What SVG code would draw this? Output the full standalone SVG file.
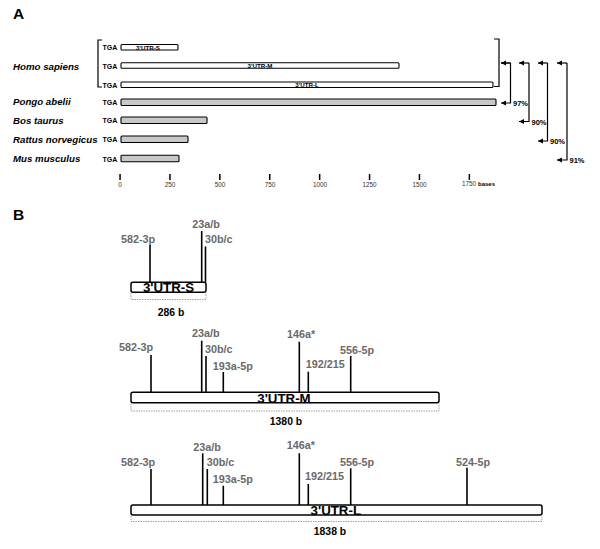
<svg xmlns="http://www.w3.org/2000/svg" width="600" height="549" viewBox="0 0 600 549">
<style>
.panel{font-family:"Liberation Sans",Arial,sans-serif;font-weight:bold;font-size:15.5px;fill:#000}
.sp{font-family:"Liberation Sans",Arial,sans-serif;font-weight:bold;font-style:italic;font-size:9.7px;fill:#000}
.tga{font-family:"Liberation Sans",Arial,sans-serif;font-weight:bold;font-size:7px;fill:#000}
.tiny{font-family:"Liberation Sans",Arial,sans-serif;font-weight:bold;font-size:6.2px;fill:#000;text-anchor:middle}
.tick{font-family:"Liberation Sans",Arial,sans-serif;font-size:6.4px;fill:#333;text-anchor:middle}
.pct{font-family:"Liberation Sans",Arial,sans-serif;font-weight:bold;font-size:7.5px;fill:#000}
.wbar{fill:#fff;stroke:#000;stroke-width:1.1}
.gbar{fill:#c8c8c8;stroke:#000;stroke-width:1.1}
.ln{stroke:#000;stroke-width:1.2;fill:none}
.mir{font-family:"Liberation Sans",Arial,sans-serif;font-weight:bold;font-size:10.8px;fill:#6a6a6a}
.site{stroke:#000;stroke-width:1.6}
.utr{fill:#fff;stroke:#000;stroke-width:1.5}
.utrt{font-family:"Liberation Sans",Arial,sans-serif;font-weight:bold;font-size:13.3px;fill:#000;text-anchor:middle}
.len{font-family:"Liberation Sans",Arial,sans-serif;font-weight:bold;font-size:10.4px;fill:#000;text-anchor:middle}
.dash{fill:none;stroke:#888;stroke-width:0.8;stroke-dasharray:1.5 1}
</style>
<defs>
<marker id="ah" markerWidth="6" markerHeight="6" refX="5" refY="3" orient="auto" markerUnits="userSpaceOnUse">
<path d="M0,0.5 L5,3 L0,5.5 z" fill="#000"/>
</marker>
</defs>

<!-- Panel A -->
<text class="panel" x="13" y="18.5">A</text>

<g id="species">
<text class="sp" x="13" y="70">Homo sapiens</text>
<text class="sp" x="13" y="104.5">Pongo abelii</text>
<text class="sp" x="13" y="123.5">Bos taurus</text>
<text class="sp" x="13" y="142.5">Rattus norvegicus</text>
<text class="sp" x="13" y="162">Mus musculus</text>
</g>

<g id="homo-bracket">
<path class="ln" d="M102,40 H98 V87 H102"/>
</g>

<g id="utr-s-a">
<text class="tga" x="102.5" y="49.8">TGA</text>
<rect class="wbar" x="121" y="44.5" width="57" height="5.5" rx="1"/>
<text class="tiny" x="148" y="49.6">3'UTR-S</text>
</g>
<g id="utr-m-a">
<text class="tga" x="102.5" y="68.5">TGA</text>
<rect class="wbar" x="121" y="62.8" width="278" height="5.5" rx="1"/>
<text class="tiny" x="260" y="68">3'UTR-M</text>
</g>
<g id="utr-l-a">
<text class="tga" x="102.5" y="88">TGA</text>
<rect class="wbar" x="121" y="82" width="372" height="5.5" rx="1"/>
<text class="tiny" x="307" y="87.3">3'UTR-L</text>
</g>
<g id="pongo">
<text class="tga" x="102.5" y="104.7">TGA</text>
<rect class="gbar" x="121" y="99" width="375" height="6.5" rx="1"/>
</g>
<g id="bos">
<text class="tga" x="102.5" y="123">TGA</text>
<rect class="gbar" x="121" y="117" width="86" height="6.5" rx="1"/>
</g>
<g id="rattus">
<text class="tga" x="102.5" y="142">TGA</text>
<rect class="gbar" x="121" y="136" width="67" height="6.5" rx="1"/>
</g>
<g id="mus">
<text class="tga" x="102.5" y="161.5">TGA</text>
<rect class="gbar" x="121" y="155.3" width="58" height="6.5" rx="1"/>
</g>

<g id="axis">
<g fill="#000">
<rect x="119.3" y="174" width="1.5" height="6"/>
<rect x="169.2" y="174" width="1.5" height="6"/>
<rect x="219.1" y="174" width="1.5" height="6"/>
<rect x="269" y="174" width="1.5" height="6"/>
<rect x="318.9" y="174" width="1.5" height="6"/>
<rect x="368.8" y="174" width="1.5" height="6"/>
<rect x="418.7" y="174" width="1.5" height="6"/>
<rect x="468.6" y="174" width="1.5" height="6"/>
</g>
<text class="tick" x="120" y="187">0</text>
<text class="tick" x="170" y="187">250</text>
<text class="tick" x="220" y="187">500</text>
<text class="tick" x="270" y="187">750</text>
<text class="tick" x="320" y="187">1000</text>
<text class="tick" x="369.5" y="187">1250</text>
<text class="tick" x="419.5" y="187">1500</text>
<text class="tick" x="469" y="186">1750</text>
<text class="tga" x="478" y="186" style="font-size:6px">bases</text>
</g>

<g id="connectors">
<path class="ln" d="M494,39 H499 V86.5 H494"/>
<path class="ln" d="M510.5,63 H501 M510.5,63 V103 H501" marker-end="url(#ah)"/>
<path class="ln" d="M510.5,63 H501" marker-end="url(#ah)"/>
<path class="ln" d="M529,63 H519" marker-end="url(#ah)"/>
<path class="ln" d="M529,63 V121.5 H519" marker-end="url(#ah)"/>
<path class="ln" d="M547.5,63 H538" marker-end="url(#ah)"/>
<path class="ln" d="M547.5,63 V141 H538" marker-end="url(#ah)"/>
<path class="ln" d="M567,63 H557" marker-end="url(#ah)"/>
<path class="ln" d="M567,63 V160 H557" marker-end="url(#ah)"/>
<text class="pct" x="513" y="106">97%</text>
<text class="pct" x="531.5" y="124.5">90%</text>
<text class="pct" x="550" y="144">90%</text>
<text class="pct" x="569.5" y="163">91%</text>
</g>

<!-- Panel B -->
<text class="panel" x="13" y="219.5">B</text>

<g id="utr-s-b">
<line class="site" x1="150" y1="245" x2="150" y2="282"/>
<line class="site" x1="201.7" y1="231" x2="201.7" y2="282"/>
<line class="site" x1="205.5" y1="246.5" x2="205.5" y2="282"/>
<text class="mir" x="121" y="243.3">582-3p</text>
<text class="mir" x="192.3" y="228.3">23a/b</text>
<text class="mir" x="205" y="243.3">30b/c</text>
<rect class="utr" x="131" y="282.3" width="75" height="10" rx="2"/>
<text class="utrt" x="168.5" y="292">3'UTR-S</text>
<path class="dash" d="M131,293 V299.5 H206 V293"/>
<text class="len" x="171" y="316">286 b</text>
</g>

<g id="utr-m-b">
<line class="site" x1="151" y1="355" x2="151" y2="392"/>
<line class="site" x1="201.7" y1="340.7" x2="201.7" y2="392"/>
<line class="site" x1="206" y1="356" x2="206" y2="392"/>
<line class="site" x1="223.3" y1="372" x2="223.3" y2="392"/>
<line class="site" x1="299.3" y1="341.7" x2="299.3" y2="392"/>
<line class="site" x1="308.3" y1="371.7" x2="308.3" y2="392"/>
<line class="site" x1="350.7" y1="356" x2="350.7" y2="392"/>
<text class="mir" x="119" y="350.7">582-3p</text>
<text class="mir" x="192" y="336.7">23a/b</text>
<text class="mir" x="205" y="352.5">30b/c</text>
<text class="mir" x="212.7" y="370">193a-5p</text>
<text class="mir" x="287" y="337.5">146a*</text>
<text class="mir" x="305.7" y="368">192/215</text>
<text class="mir" x="340" y="354">556-5p</text>
<rect class="utr" x="131" y="392.3" width="308" height="10.4" rx="2"/>
<text class="utrt" x="284" y="402.5">3'UTR-M</text>
<path class="dash" d="M131,403.5 V411 H439 V403.5"/>
<text class="len" x="286" y="425">1380 b</text>
</g>

<g id="utr-l-b">
<line class="site" x1="151" y1="469" x2="151" y2="505"/>
<line class="site" x1="202.7" y1="453.3" x2="202.7" y2="505"/>
<line class="site" x1="207.3" y1="469" x2="207.3" y2="505"/>
<line class="site" x1="223.3" y1="485.7" x2="223.3" y2="505"/>
<line class="site" x1="299.3" y1="453.3" x2="299.3" y2="505"/>
<line class="site" x1="308.3" y1="484" x2="308.3" y2="505"/>
<line class="site" x1="350.7" y1="468.3" x2="350.7" y2="505"/>
<line class="site" x1="467" y1="467.7" x2="467" y2="505"/>
<text class="mir" x="121" y="465.7">582-3p</text>
<text class="mir" x="193.3" y="450.7">23a/b</text>
<text class="mir" x="206.7" y="465.7">30b/c</text>
<text class="mir" x="212.7" y="483.3">193a-5p</text>
<text class="mir" x="286.7" y="449">146a*</text>
<text class="mir" x="305" y="480">192/215</text>
<text class="mir" x="340" y="465.7">556-5p</text>
<text class="mir" x="456" y="465.7">524-5p</text>
<rect class="utr" x="131" y="505" width="411" height="10" rx="2"/>
<text class="utrt" x="335.8" y="515">3'UTR-L</text>
<path class="dash" d="M131,516 V521.5 H542 V516"/>
<text class="len" x="330" y="535">1838 b</text>
</g>
</svg>
